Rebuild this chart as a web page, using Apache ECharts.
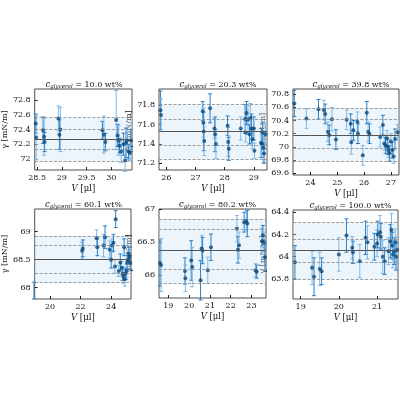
<!DOCTYPE html>
<html><head><meta charset="utf-8">
<script src="https://cdn.jsdelivr.net/npm/echarts@6/dist/echarts.min.js"></script>
<style>html,body{margin:0;background:#fff}#c{width:400px;height:400px}</style>
</head><body><div id="c"></div>
<script>
// panel labels and axis ranges
const concentrations = ['10.0', '20.3', '39.8', '60.1', '80.2', '100.0'];
const xRanges = [[28.45, 30.42], [25.75, 29.45], [23.35, 27.3], [19, 25.3], [18.55, 23.7], [18.8, 21.55]];
const yRanges = [[71.85, 72.95], [71.13, 71.97], [69.57, 70.88], [67.8, 69.4], [65.65, 67], [63.62, 64.42]];
// tick labels
const xTicks = [[28.5, 29, 29.5, 30], [26, 27, 28, 29], [24, 25, 26, 27], [20, 22, 24], [19, 20, 21, 22, 23], [19, 20, 21]];
const yTicks = [[72, 72.2, 72.4, 72.6, 72.8], [71.2, 71.4, 71.6, 71.8], [69.6, 69.8, 70, 70.2, 70.4, 70.6, 70.8], [68, 68.5, 69], [66, 66.5, 67], [63.8, 64, 64.2, 64.4]];
// mean, +2s, +1s, -1s, -2s
const means = [72.27, 71.525, 70.18, 68.5, 66.37, 64.06];
const bands = [
  [72.56, 72.40, 72.13, 71.97],
  [71.81, 71.66, 71.39, 71.24],
  [70.59, 70.42, 69.97, 69.78],
  [68.92, 68.75, 68.25, 68.09],
  [66.85, 66.70, 66.08, 65.88],
  [64.31, 64.16, 63.95, 63.80]
];
// measurements: [V, gamma, error]
const data10 = [[28.47,72.48,0.13],[28.48,72.29,0.3],[28.62,72.39,0.18],[28.64,72.3,0.25],[28.65,72.23,0.13],[28.93,72.55,0.17],[28.95,72.33,0.2],[28.97,72.4,0.3],[29.82,72.39,0.12],[29.85,72.33,0.25],[29.88,72.23,0.12],[30.1,72.53,0.4],[30.13,72.32,0.15],[30.15,72.25,0.2],[30.17,72.18,0.1],[30.2,72.1,0.15],[30.25,72.2,0.15],[30.28,71.98,0.15],[30.3,72.22,0.2],[30.32,72.25,0.15],[30.35,72.1,0.1],[30.38,72.08,0.1],[30.4,72.25,0.15]];
const data20 = [[25.8,71.75,0.2],[25.82,71.7,0.17],[27.25,71.74,0.1],[27.27,71.62,0.15],[27.28,71.53,0.2],[27.3,71.43,0.15],[27.5,71.77,0.15],[27.65,71.56,0.1],[27.67,71.5,0.18],[27.7,71.4,0.15],[28.1,71.59,0.1],[28.12,71.42,0.15],[28.14,71.35,0.12],[28.55,71.56,0.12],[28.7,71.66,0.15],[28.72,71.52,0.1],[28.75,71.72,0.12],[28.8,71.65,0.15],[28.85,71.5,0.1],[28.88,71.67,0.15],[28.92,71.56,0.15],[28.95,71.45,0.1],[29.0,71.56,0.12],[29.02,71.33,0.08],[29.25,71.41,0.15],[29.28,71.4,0.1],[29.3,71.52,0.1],[29.32,71.36,0.15],[29.35,71.3,0.1],[29.4,71.5,0.12]];
const data40 = [[23.4,70.66,0.2],[23.85,70.43,0.15],[24.3,70.57,0.15],[24.5,70.56,0.15],[24.55,70.5,0.15],[24.65,70.23,0.15],[24.7,70.18,0.15],[24.8,70.42,0.18],[24.95,70.11,0.15],[25.35,70.41,0.15],[25.5,70.35,0.15],[25.52,70.07,0.18],[25.6,70.25,0.15],[25.75,70.38,0.15],[25.77,70.2,0.15],[25.95,69.87,0.15],[26.1,70.52,0.17],[26.15,70.23,0.15],[26.2,70.2,0.15],[26.6,70.15,0.15],[26.7,70.33,0.15],[26.75,70.05,0.1],[26.8,70.02,0.12],[26.85,70.13,0.12],[26.88,70.0,0.12],[26.9,69.95,0.12],[26.95,69.9,0.12],[27.0,70.08,0.12],[27.05,69.95,0.12],[27.1,69.85,0.1],[27.15,70.12,0.15],[27.25,70.22,0.12]];
const data60 = [[18.95,67.95,0.15],[22.1,68.66,0.15],[22.15,68.7,0.15],[23.05,68.88,0.15],[23.1,68.72,0.15],[23.5,68.75,0.2],[23.6,68.9,0.2],[23.9,68.68,0.15],[24.0,68.5,0.15],[24.05,68.75,0.12],[24.15,68.8,0.15],[24.25,68.38,0.12],[24.3,69.22,0.15],[24.5,68.3,0.1],[24.6,68.45,0.15],[24.7,68.35,0.12],[24.75,68.25,0.12],[24.8,68.2,0.12],[24.85,68.72,0.15],[24.9,68.15,0.12],[24.95,68.25,0.1],[25.0,68.3,0.12],[25.05,68.45,0.12],[25.1,68.5,0.12],[25.15,68.6,0.12],[25.2,68.55,0.12],[25.25,68.45,0.12]];
const data80 = [[18.6,66.18,0.35],[18.65,66.15,0.4],[19.8,66.06,0.2],[19.82,65.95,0.2],[20.1,66.22,0.3],[20.15,66.12,0.3],[20.55,65.92,0.3],[20.6,66.4,0.2],[20.65,66.37,0.2],[20.9,66.07,0.2],[21.05,66.42,0.2],[22.3,66.7,0.2],[22.35,66.38,0.2],[22.4,66.45,0.2],[22.65,66.8,0.15],[22.75,66.82,0.15],[22.8,66.78,0.2],[23.2,66.07,0.1],[23.25,66.05,0.1],[23.5,66.51,0.2],[23.55,66.6,0.15],[23.6,66.5,0.15],[23.65,66.27,0.2]];
const data100 = [[18.85,63.95,0.15],[19.3,63.9,0.15],[19.35,63.82,0.17],[19.5,63.89,0.15],[19.55,63.87,0.12],[20.0,64.02,0.15],[20.2,64.19,0.15],[20.35,64.08,0.1],[20.37,64.04,0.1],[20.55,63.96,0.15],[20.7,64.17,0.15],[20.75,64.13,0.15],[20.93,64.09,0.12],[21.0,64.12,0.12],[21.02,64.2,0.12],[21.08,64.22,0.15],[21.1,64.18,0.12],[21.15,64.0,0.15],[21.2,63.96,0.12],[21.3,64.05,0.12],[21.35,64.14,0.15],[21.38,64.24,0.15],[21.4,64.1,0.12],[21.42,64.02,0.12],[21.45,64.05,0.12],[21.48,64.13,0.12],[21.5,64.0,0.12],[21.53,64.06,0.12]];
const datasets = [data10, data20, data40, data60, data80, data100];

const font = 'DejaVu Serif';
const grids = [
  {left: 26, top: 89, width: 106, height: 81},
  {left: 159, top: 89, width: 108, height: 81},
  {left: 293, top: 89, width: 106, height: 86},
  {left: 26, top: 209, width: 105, height: 90},
  {left: 159, top: 209, width: 107, height: 89},
  {left: 293, top: 210, width: 105, height: 89}
];

const option = {animation: false, grid: [], xAxis: [], yAxis: [], series: [], title: []};
grids.forEach((g, i) => {
  option.grid.push(Object.assign({show: true, borderColor: '#222', borderWidth: 0.8, backgroundColor: '#fff'}, g));
  option.title.push({
    text: '{i|c}{s|glycerol}{n| = ' + concentrations[i] + ' wt%}',
    left: g.left + g.width / 2, top: g.top - 15, textAlign: 'center',
    textStyle: {fontWeight: 'normal', rich: {
      i: {fontFamily: font, fontSize: 8.5, fontStyle: 'italic', fontWeight: 'normal', color: '#111'},
      n: {fontFamily: font, fontSize: 8, fontWeight: 'normal', color: '#111'},
      s: {fontFamily: font, fontSize: 5.5, fontStyle: 'italic', fontWeight: 'normal', color: '#111', padding: [5, 0, 0, 0]}}}
  });
  const [xmin, xmax] = xRanges[i];
  const [ymin, ymax] = yRanges[i];
  option.xAxis.push({type: 'value', gridIndex: i, min: xmin, max: xmax,
    name: '{i|V} [μl]', nameLocation: 'middle', nameGap: 14,
    nameTextStyle: {fontFamily: font, fontSize: 8.5, color: '#111', rich: {i: {fontFamily: font, fontStyle: 'italic', fontSize: 8.5}}},
    axisLine: {show: false},
    axisTick: {inside: true, length: 3, lineStyle: {color: '#222'}, customValues: xTicks[i]},
    axisLabel: {fontFamily: font, fontSize: 8, color: '#111', margin: 4, customValues: xTicks[i]},
    splitLine: {show: false}});
  option.yAxis.push({type: 'value', gridIndex: i, min: ymin, max: ymax,
    name: 'γ [mN/m]', nameLocation: 'middle', nameGap: i % 3 === 0 ? 19 : 21, nameRotate: 90,
    nameTextStyle: {fontFamily: font, fontSize: 8, color: '#111'},
    axisLine: {show: false},
    axisTick: {inside: true, length: 3, lineStyle: {color: '#222'}, customValues: yTicks[i]},
    axisLabel: {fontFamily: font, fontSize: 8, color: '#111', margin: 4, customValues: yTicks[i]},
    splitLine: {show: false}});
  const b = bands[i];
  option.series.push({
    type: 'line', xAxisIndex: i, yAxisIndex: i, data: [], silent: true,
    markArea: {silent: true, itemStyle: {color: 'rgba(200,225,245,0.35)'}, data: [[{yAxis: b[3]}, {yAxis: b[0]}]]},
    markLine: {silent: true, symbol: 'none', label: {show: false},
      data: [
        {yAxis: means[i], lineStyle: {color: '#555', type: 'solid', width: 1.2}},
        ...b.map(v => ({yAxis: v, lineStyle: {color: '#888', type: 'dashed', width: 0.8}}))
      ]}
  });
  option.series.push({
    type: 'custom', xAxisIndex: i, yAxisIndex: i, silent: true,
    data: datasets[i].map((d, k) => [d[0], d[1], d[2], k % 2]),
    renderItem: (params, api) => {
      const x = api.value(0), y = api.value(1), e = api.value(2);
      const top = api.coord([x, y + e]), bot = api.coord([x, y - e]);
      const col = api.value(3) ? '#7fb8e6' : '#2b7fc4';
      const style = {stroke: col, lineWidth: 1};
      return {type: 'group', children: [
        {type: 'line', shape: {x1: top[0], y1: top[1], x2: bot[0], y2: bot[1]}, style},
        {type: 'line', shape: {x1: top[0] - 2, y1: top[1], x2: top[0] + 2, y2: top[1]}, style},
        {type: 'line', shape: {x1: bot[0] - 2, y1: bot[1], x2: bot[0] + 2, y2: bot[1]}, style}
      ]};
    }
  });
  option.series.push({
    type: 'scatter', xAxisIndex: i, yAxisIndex: i, symbolSize: 4, silent: true,
    itemStyle: {color: '#0d4a7c'}, data: datasets[i].map(d => [d[0], d[1]])
  });
});
const chart = echarts.init(document.getElementById('c'));
chart.setOption(option);
</script></body></html>
